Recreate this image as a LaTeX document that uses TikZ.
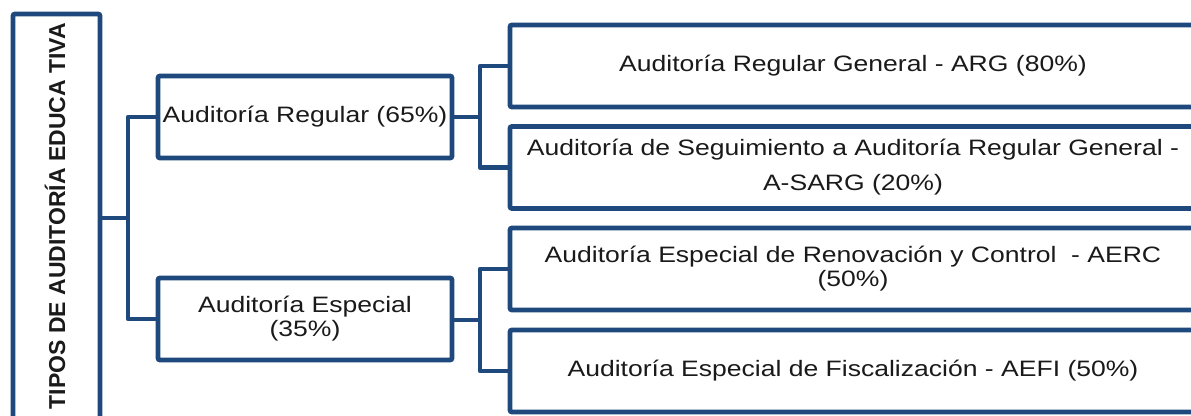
\documentclass[tikz,border=0pt]{standalone}
\usepackage{fontspec}
\setmainfont{Liberation Sans}[FakeStretch=1.19]
\newfontfamily\rootfont{Liberation Sans}
\definecolor{navy}{HTML}{1F497D}
\definecolor{txt}{HTML}{1A1A1A}
\begin{document}
\begin{tikzpicture}[x=0.5pt,y=-0.5pt]
\tikzset{
  box/.style={draw=navy, line width=2.4pt, rounded corners=1pt, inner sep=0pt, align=center,
    font=\fontsize{11.15}{12}\selectfont, text=txt},
  conn/.style={draw=navy, line width=2.2pt, line join=round},
}
\useasboundingbox (0,0) rectangle (1191,416);
\fill[white] (0,0) rectangle (1191,416);
\node[box, minimum width=43.5pt, minimum height=214pt] (root) at (56.5,228) {};
\node[rotate=90, inner sep=0pt, text=txt, font=\rootfont\bfseries\fontsize{11.5}{12}\selectfont] (rootlabel) at (55,216) {TIPOS DE AUDITORÍA EDUCA TIVA};
\node[box, minimum width=147pt, minimum height=41pt] (reg) at (305,117) {Auditoría Regular (65\%)};
\node[box, minimum width=147pt, minimum height=41pt] (esp) at (305,319) {Auditoría Especial\\(35\%)};
\node[box, minimum width=343pt, minimum height=41pt] (arg) at (853,66) {Auditoría Regular General - ARG (80\%)};
\node[box, minimum width=343pt, minimum height=41pt, font=\fontsize{11.15}{17.5}\selectfont] (sarg) at (853,167.5) {Auditoría de Seguimiento a Auditoría Regular General -\\A-SARG (20\%)};
\node[box, minimum width=343pt, minimum height=41pt] (aerc) at (853,269) {Auditoría Especial de Renovación y Control \ - AERC\\(50\%)};
\node[box, minimum width=343pt, minimum height=41pt] (aefi) at (853,371) {Auditoría Especial de Fiscalización - AEFI (50\%)};
\coordinate (j1) at (128,218);
\coordinate (j2) at (480,117);
\coordinate (j3) at (480,320);
\draw[conn] (root.east |- j1) -- (j1);
\draw[conn] (reg.west) -| (j1) |- (esp.west);
\draw[conn] (reg.east) -- (j2);
\draw[conn] (arg.west) -| (j2) |- (sarg.west);
\draw[conn] (esp.east |- j3) -- (j3);
\draw[conn] (aerc.west) -| (j3) |- (aefi.west);
\end{tikzpicture}
\end{document}
